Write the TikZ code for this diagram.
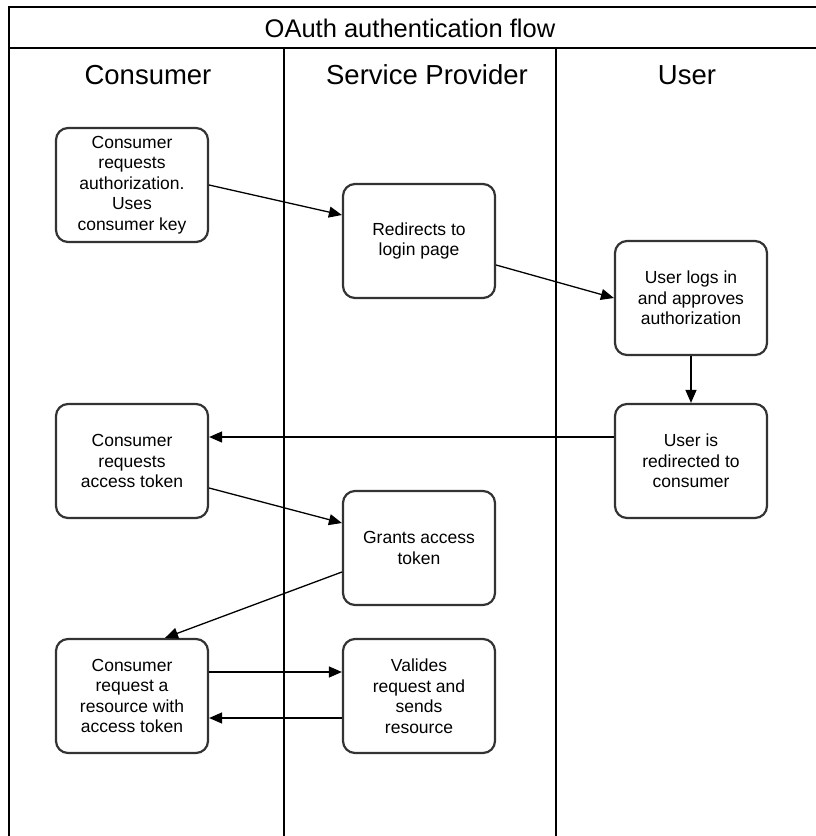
\documentclass[tikz,border=0pt]{standalone}
\usepackage{fontspec}
\setmainfont{Liberation Sans}
\usetikzlibrary{arrows.meta}

\begin{document}
\begin{tikzpicture}[x=1pt,y=-1pt,
  task box/.style={draw=black!80,line width=2.2pt,rounded corners=12pt,fill=white,
    minimum width=152pt,minimum height=114pt,align=center,inner sep=2pt,
    font=\fontsize{17.5}{20.5}\selectfont},
  lane/.style={line width=2.6pt},
  flow/.style={-{Triangle[length=13pt,width=11pt]},line width=1.3pt},
  heading/.style={font=\fontsize{27.5}{31}\selectfont}]
\clip (0,0) rectangle (816,836);
% pool and lanes
\draw[lane] (9,840) -- (9,7) -- (830,7);
\draw[lane] (9,48) -- (830,48);
\draw[lane] (284,48) -- (284,840);
\draw[lane] (556,48) -- (556,840);
\node[heading,font=\fontsize{25.5}{30}\selectfont] (title) at (410,28) {OAuth authentication flow};
\node[heading] (hcons) at (148,75) {Consumer};
\node[heading] (hprov) at (427,75) {Service Provider};
\node[heading] (huser) at (687,75) {User};
% steps
\node[task box] (authreq) at (132,185) {Consumer\\requests\\authorization.\\Uses\\consumer key};
\node[task box] (login)   at (419,241) {Redirects to\\login page};
\node[task box] (approve) at (691,298) {User logs in\\and approves\\authorization};
\node[task box] (redir)   at (691,461) {User is\\redirected to\\consumer};
\node[task box] (tokreq)  at (132,461) {Consumer\\requests\\access token};
\node[task box] (grant)   at (419,548) {Grants access\\token};
\node[task box] (resreq)  at (132,696) {Consumer\\request a\\resource with\\access token};
\node[task box] (valid)   at (419,696) {Valides\\request and\\sends\\resource};
% messages
\draw[flow] (authreq.east) -- ([yshift=26pt]login.west);
\draw[flow] ([yshift=-24pt]login.east) -- (approve.west);
\draw[flow] (approve) -- (redir);
\draw[flow] ([yshift=24pt]redir.west) -- ([yshift=24pt]tokreq.east);
\draw[flow] ([yshift=-27pt]tokreq.east) -- ([yshift=25pt]grant.west);
\draw[flow] ([yshift=-24pt]grant.west) -- ([xshift=33pt]resreq.north);
\draw[flow] ([yshift=24pt]resreq.east) -- ([yshift=24pt]valid.west);
\draw[flow] ([yshift=-22pt]valid.west) -- ([yshift=-22pt]resreq.east);
\end{tikzpicture}
\end{document}
